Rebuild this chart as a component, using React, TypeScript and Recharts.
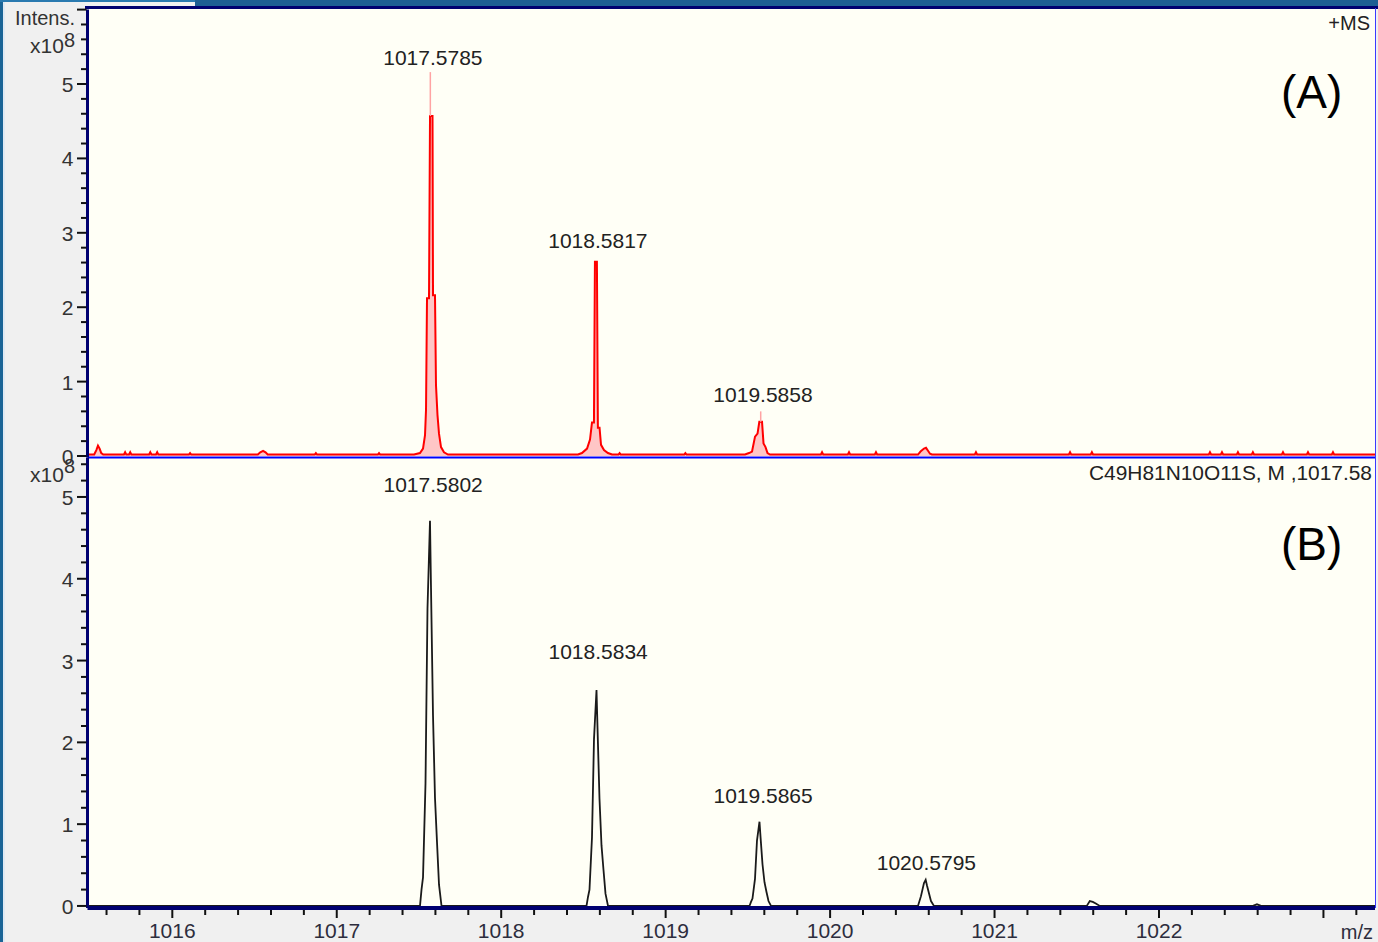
import React from 'react';
import { ComposedChart, Area, Line, XAxis, YAxis, ReferenceLine, ReferenceDot } from 'recharts';

// ---------- DATA ----------
type Pt = [number, number];

// (A) measured spectrum, profile points [m/z, intensity x10^8]
const noiseA: Pt[] = [
  [1015.4843, 0.02],
  [1015.525, 0.02], [1015.538, 0.08], [1015.548, 0.14], [1015.558, 0.1], [1015.568, 0.04], [1015.58, 0.02],
  [1015.706, 0.02], [1015.713, 0.05], [1015.72, 0.02],
  [1015.737, 0.02], [1015.744, 0.05], [1015.751, 0.02],
  [1015.859, 0.02], [1015.866, 0.05], [1015.873, 0.02],
  [1015.901, 0.02], [1015.908, 0.05], [1015.915, 0.02],
  [1016.101, 0.02], [1016.108, 0.04], [1016.115, 0.02],
  [1016.52, 0.02], [1016.535, 0.05], [1016.552, 0.07], [1016.567, 0.05], [1016.58, 0.02],
  [1016.866, 0.02], [1016.873, 0.04], [1016.88, 0.02],
  [1017.25, 0.02], [1017.257, 0.04], [1017.264, 0.02],
  [1018.713, 0.02], [1018.72, 0.04], [1018.727, 0.02],
  [1019.113, 0.02], [1019.12, 0.04], [1019.127, 0.02],
  [1019.944, 0.02], [1019.951, 0.05], [1019.958, 0.02],
  [1020.108, 0.02], [1020.115, 0.05], [1020.122, 0.02],
  [1020.272, 0.02], [1020.279, 0.05], [1020.286, 0.02],
  [1020.88, 0.02], [1020.887, 0.05], [1020.894, 0.02],
  [1021.452, 0.02], [1021.459, 0.05], [1021.466, 0.02],
  [1021.585, 0.02], [1021.592, 0.05], [1021.599, 0.02],
  [1022.303, 0.02], [1022.31, 0.05], [1022.317, 0.02],
  [1022.376, 0.02], [1022.383, 0.05], [1022.39, 0.02],
  [1022.473, 0.02], [1022.48, 0.05], [1022.487, 0.02],
  [1022.564, 0.02], [1022.571, 0.05], [1022.578, 0.02],
  [1022.747, 0.02], [1022.754, 0.05], [1022.761, 0.02],
  [1022.899, 0.02], [1022.906, 0.05], [1022.913, 0.02],
  [1023.051, 0.02], [1023.058, 0.05], [1023.065, 0.02],
  [1023.3135, 0.02],
];
const peakA1: Pt[] = [
  [1017.47, 0.02], [1017.506, 0.04], [1017.5245, 0.1], [1017.5367, 0.28], [1017.5428, 0.62],
  [1017.5488, 2.12], [1017.561, 2.12], [1017.5671, 4.57], [1017.5823, 4.57], [1017.5853, 2.16],
  [1017.5974, 2.16], [1017.6035, 0.95], [1017.6126, 0.55], [1017.6218, 0.3], [1017.634, 0.12],
  [1017.6522, 0.05], [1017.6765, 0.02],
];
const peakA2: Pt[] = [
  [1018.467, 0.02], [1018.491, 0.04], [1018.522, 0.1], [1018.54, 0.22], [1018.552, 0.45],
  [1018.564, 0.45], [1018.57, 2.61], [1018.582, 2.61], [1018.588, 0.38], [1018.598, 0.38],
  [1018.607, 0.15], [1018.625, 0.08], [1018.649, 0.04], [1018.674, 0.02],
];
const peakA3: Pt[] = [
  [1019.4826, 0.02], [1019.5069, 0.04], [1019.5252, 0.06], [1019.5435, 0.26], [1019.5587, 0.3],
  [1019.5696, 0.46], [1019.586, 0.46], [1019.5951, 0.17], [1019.6073, 0.12], [1019.6194, 0.04],
  [1019.6346, 0.02],
];
const peakA4: Pt[] = [
  [1020.5346, 0.02], [1020.5498, 0.06], [1020.571, 0.1], [1020.5832, 0.11], [1020.5954, 0.07],
  [1020.6076, 0.03], [1020.6198, 0.02],
];
// centroid sticks above the profile tops
const sticksA = [
  { mz: 1017.569, from: 4.57, to: 5.16 },
  { mz: 1019.578, from: 0.46, to: 0.6 },
];

// (B) simulated isotope pattern
const edgesB: Pt[] = [[1015.4843, 0], [1023.3135, 0]];
const peakB1: Pt[] = [
  [1017.5062, 0], [1017.5154, 0.2], [1017.5245, 0.35], [1017.5397, 1.5], [1017.5518, 3.64],
  [1017.567, 4.71], [1017.5731, 3.89], [1017.5853, 2.33], [1017.5974, 1.32], [1017.6096, 0.78],
  [1017.6218, 0.26], [1017.637, 0],
];
const peakB2: Pt[] = [
  [1018.5187, 0], [1018.5278, 0.11], [1018.5369, 0.2], [1018.5521, 0.84], [1018.5643, 2.04],
  [1018.5795, 2.64], [1018.5856, 2.18], [1018.5977, 1.31], [1018.6099, 0.74], [1018.6221, 0.44],
  [1018.6342, 0.15], [1018.6494, 0],
];
const peakB3: Pt[] = [
  [1019.5099, 0], [1019.519, 0.05], [1019.528, 0.09], [1019.5433, 0.33], [1019.5554, 0.8],
  [1019.5706, 1.03], [1019.5767, 0.85], [1019.5889, 0.51], [1019.601, 0.29], [1019.6132, 0.17],
  [1019.6254, 0.06], [1019.6406, 0],
];
const peakB4: Pt[] = [
  [1020.5344, 0], [1020.5526, 0.12], [1020.5709, 0.28], [1020.5812, 0.32], [1020.5891, 0.25],
  [1020.6043, 0.13], [1020.6134, 0.06], [1020.6316, 0],
];
const peakB5: Pt[] = [[1021.5609, 0], [1021.5791, 0.06], [1021.5974, 0.05], [1021.6156, 0.03], [1021.6399, 0]];
const peakB6: Pt[] = [[1022.5715, 0], [1022.5958, 0.02], [1022.6201, 0]];

// peak annotations: text, m/z of label centre, label baseline height
const labelsA = [
  { text: '1017.5785', mz: 1017.5785, y: 5.255 },
  { text: '1018.5817', mz: 1018.5817, y: 2.8 },
  { text: '1019.5858', mz: 1019.5858, y: 0.726 },
];
const labelsB = [
  { text: '1017.5802', mz: 1017.5802, y: 5.06 },
  { text: '1018.5834', mz: 1018.5834, y: 3.02 },
  { text: '1019.5865', mz: 1019.5865, y: 1.26 },
  { text: '1020.5795', mz: 1020.5795, y: 0.44 },
];

// ticks
const yTicksTop = [0, 0.2, 0.4, 0.6, 0.8, 1, 1.2, 1.4, 1.6, 1.8, 2, 2.2, 2.4, 2.6, 2.8, 3, 3.2, 3.4, 3.6, 3.8, 4, 4.2, 4.4, 4.6, 4.8, 5, 5.2, 5.4, 5.6, 5.8, 6];
const yTicksBottom = [0, 0.2, 0.4, 0.6, 0.8, 1, 1.2, 1.4, 1.6, 1.8, 2, 2.2, 2.4, 2.6, 2.8, 3, 3.2, 3.4, 3.6, 3.8, 4, 4.2, 4.4, 4.6, 4.8, 5, 5.2, 5.4];
const yLabels = [0, 1, 2, 3, 4, 5];
const xTicks = [1015.6, 1015.8, 1016, 1016.2, 1016.4, 1016.6, 1016.8, 1017, 1017.2, 1017.4, 1017.6, 1017.8, 1018, 1018.2, 1018.4, 1018.6, 1018.8, 1019, 1019.2, 1019.4, 1019.6, 1019.8, 1020, 1020.2, 1020.4, 1020.6, 1020.8, 1021, 1021.2, 1021.4, 1021.6, 1021.8, 1022, 1022.2, 1022.4, 1022.6, 1022.8, 1023, 1023.2];
const xLabels = [1016, 1017, 1018, 1019, 1020, 1021, 1022];

const toRows = (pts: Pt[]) => pts.map(([mz, i]) => ({ mz, i })).sort((a, b) => a.mz - b.mz);
const dataA = toRows([...noiseA, ...peakA1, ...peakA2, ...peakA3, ...peakA4]);
const dataB = toRows([...edgesB, ...peakB1, ...peakB2, ...peakB3, ...peakB4, ...peakB5, ...peakB6]);

// ---------- LAYOUT ----------
const W = 1378;
const FONT = '"Liberation Sans", Arial, sans-serif';
const X_DOMAIN: [number, number] = [1015.4843, 1023.3135];
const Y_AXIS_W = 60;
const PLOT_LEFT = 87.5;
const PLOT_RIGHT = 1375;
const AXIS_COLOR = '#000070';

function YTick(props: any) {
  const { x, y, payload } = props;
  const v = payload.value as number;
  const major = Math.abs(v - Math.round(v)) < 1e-6;
  const lbl = major && yLabels.includes(Math.round(v));
  return (
    <g>
      <line x1={x - (major ? 10.5 : 6.5)} x2={x - 1} y1={y} y2={y} stroke="#111" strokeWidth={2} />
      {lbl && (
        <text x={x - 14} y={y + 8} textAnchor="end" fontSize={21} fontFamily={FONT} fill="#333">
          {Math.round(v)}
        </text>
      )}
    </g>
  );
}

function XTick(props: any) {
  const { x, y, payload } = props;
  const v = payload.value as number;
  const major = Math.abs(v - Math.round(v)) < 1e-6;
  const lbl = major && xLabels.includes(Math.round(v));
  return (
    <g>
      <line x1={x} x2={x} y1={y + 2} y2={y + (major ? 10 : 7)} stroke="#111" strokeWidth={2} />
      {lbl && (
        <text x={x} y={y + 30} textAnchor="middle" fontSize={21} fontFamily={FONT} fill="#2d2d3d">
          {Math.round(v)}
        </text>
      )}
    </g>
  );
}

const peakLabel = (text: string) => (p: any) => (
  <text x={p.cx + 1} y={p.cy} textAnchor="middle" fontSize={21} fontFamily={FONT} fill="#222">
    {text}
  </text>
);

export default function App() {
  const topH = 470;
  const topMarginTop = 9.6;
  const topPlotBottom = 457.5;
  const topXH = 1;
  const botTop = 440;
  const botH = 502;
  const botPlotTop = 457.7;
  const botXH = 34;
  const botPlotBottom = 908;

  return (
    <div style={{ position: 'absolute', left: 0, top: 0, width: W, height: 942, background: '#f0f0f0', overflow: 'hidden', fontFamily: FONT }}>
      {/* window chrome */}
      <div style={{ position: 'absolute', left: 0, top: 0, width: 3, height: 942, background: '#1a6496' }} />
      <div style={{ position: 'absolute', left: 3, top: 0, width: 2, height: 942, background: '#dfe9f3' }} />
      <div style={{ position: 'absolute', left: 0, top: 0, width: W, height: 2, background: '#2a7ab0' }} />
      <div style={{ position: 'absolute', left: 195, top: 0, width: W - 195, height: 6, background: '#1e5f93' }} />
      {/* plot background */}
      <div style={{ position: 'absolute', left: PLOT_LEFT, top: 8, width: PLOT_RIGHT - PLOT_LEFT, height: 900, background: '#fffff6' }} />
      {/* frame top and right */}
      <div style={{ position: 'absolute', left: 85, top: 6, width: W - 85, height: 3, background: AXIS_COLOR }} />
      <div style={{ position: 'absolute', left: 1374.5, top: 8, width: 1.5, height: 900, background: '#3a3aff' }} />

      {/* (A) measured */}
      <div style={{ position: 'absolute', left: 0, top: 0 }}>
        <ComposedChart
          width={W}
          height={topH}
          data={dataA}
          margin={{ top: topMarginTop, right: W - PLOT_RIGHT, left: PLOT_LEFT - Y_AXIS_W, bottom: topH - topPlotBottom - topXH }}
        >
          <XAxis
            type="number"
            dataKey="mz"
            domain={X_DOMAIN}
            allowDataOverflow
            height={topXH}
            tick={false}
            tickLine={false}
            axisLine={{ stroke: '#0000ff', strokeWidth: 2 }}
          />
          <YAxis
            type="number"
            domain={[-0.02, 6.0]}
            allowDataOverflow
            width={Y_AXIS_W}
            ticks={yTicksTop}
            interval={0}
            tickSize={0}
            tickMargin={0}
            tickLine={false}
            tick={(p: any) => <YTick {...p} />}
            axisLine={{ stroke: AXIS_COLOR, strokeWidth: 3 }}
          />
          <Area
            type="linear"
            dataKey="i"
            stroke="#ff0000"
            strokeWidth={2}
            fill="#ffc6c6"
            fillOpacity={1}
            baseValue={0}
            dot={false}
            activeDot={false}
            isAnimationActive={false}
          />
          {sticksA.map((s) => (
            <ReferenceLine
              key={s.mz}
              segment={[{ x: s.mz, y: s.from }, { x: s.mz, y: s.to }]}
              stroke="#ffa3a3"
              strokeWidth={1.5}
              ifOverflow="visible"
            />
          ))}
          {labelsA.map((l) => (
            <ReferenceDot key={l.text} x={l.mz} y={l.y} r={0} ifOverflow="visible" shape={peakLabel(l.text)} />
          ))}
        </ComposedChart>
      </div>

      {/* (B) simulated */}
      <div style={{ position: 'absolute', left: 0, top: botTop }}>
        <ComposedChart
          width={W}
          height={botH}
          data={dataB}
          margin={{ top: botPlotTop - botTop, right: W - PLOT_RIGHT, left: PLOT_LEFT - Y_AXIS_W, bottom: botH - (botPlotBottom - botTop) - botXH }}
        >
          <XAxis
            type="number"
            dataKey="mz"
            domain={X_DOMAIN}
            allowDataOverflow
            height={botXH}
            ticks={xTicks}
            interval={0}
            tickSize={0}
            tickMargin={0}
            tickLine={false}
            tick={(p: any) => <XTick {...p} />}
            axisLine={{ stroke: AXIS_COLOR, strokeWidth: 4 }}
          />
          <YAxis
            type="number"
            domain={[-0.025, 5.48]}
            allowDataOverflow
            width={Y_AXIS_W}
            ticks={yTicksBottom}
            interval={0}
            tickSize={0}
            tickMargin={0}
            tickLine={false}
            tick={(p: any) => <YTick {...p} />}
            axisLine={{ stroke: AXIS_COLOR, strokeWidth: 3 }}
          />
          <Line
            type="linear"
            dataKey="i"
            stroke="#1a1a1a"
            strokeWidth={1.8}
            dot={false}
            activeDot={false}
            isAnimationActive={false}
          />
          {labelsB.map((l) => (
            <ReferenceDot key={l.text} x={l.mz} y={l.y} r={0} ifOverflow="visible" shape={peakLabel(l.text)} />
          ))}
        </ComposedChart>
      </div>

      {/* static annotations */}
      <svg width={W} height={942} style={{ position: 'absolute', left: 0, top: 0, pointerEvents: 'none' }}>
        <g fontFamily={FONT} fill="#333">
          <text x={15} y={25} fontSize={20}>Intens.</text>
          <text x={30} y={53} fontSize={21}>x10</text>
          <text x={64} y={47} fontSize={20}>8</text>
          <text x={30} y={482} fontSize={21}>x10</text>
          <text x={64} y={473} fontSize={20}>8</text>
          <text x={1370} y={30} fontSize={20} textAnchor="end" fill="#222">+MS</text>
          <text x={1372} y={480} fontSize={20.9} textAnchor="end" fill="#222">C49H81N10O11S, M ,1017.58</text>
          <text x={1373} y={939} fontSize={20} textAnchor="end" fill="#2d2d3d">m/z</text>
          <text x={1281} y={108} fontSize={46} fill="#000">(A)</text>
          <text x={1281} y={560} fontSize={46} fill="#000">(B)</text>
        </g>
      </svg>
    </div>
  );
}
